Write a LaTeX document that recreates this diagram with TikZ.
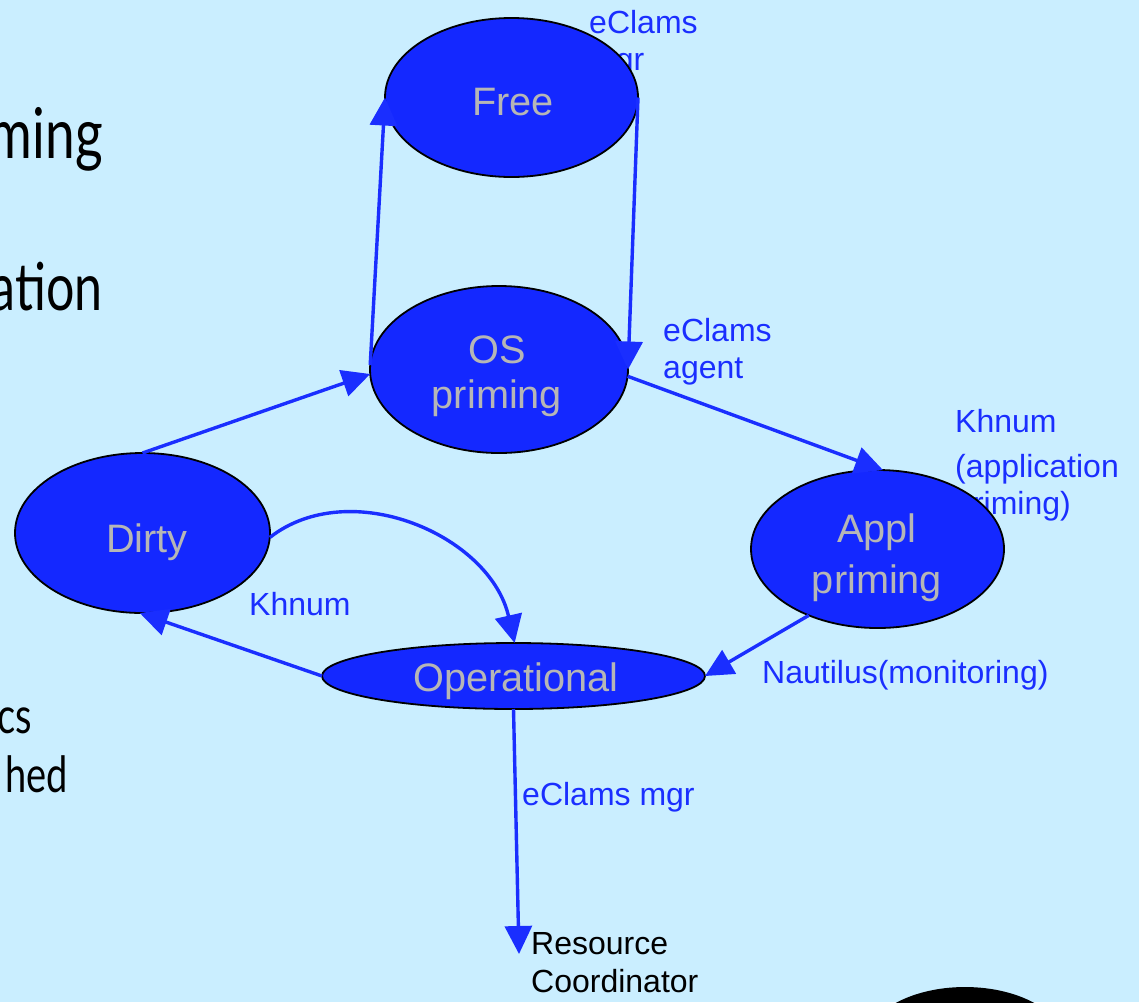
\documentclass[tikz,border=0pt]{standalone}
\usepackage{fontspec}
\setmainfont{Liberation Sans}
\newfontfamily\slidefont{Lato}
\usetikzlibrary{arrows.meta,shapes.geometric}

\definecolor{slidebg}{RGB}{202,238,255}
\definecolor{stateblue}{RGB}{20,40,255}
\definecolor{linkblue}{RGB}{26,46,255}
\definecolor{stategray}{RGB}{182,182,182}

\tikzset{
  state/.style={ellipse, draw=black, line width=1.8pt, fill=stateblue,
    inner sep=0pt, outer sep=0pt},
  statetext/.style={text=stategray, inner sep=0pt, align=center,
    font=\fontsize{39.7}{45}\selectfont},
  link/.style={draw=linkblue, line width=3.4pt,
    -{Triangle[length=28pt,width=27pt]}},
  tag/.style={text=linkblue, inner sep=0pt, align=left,
    font=\fontsize{32}{37}\selectfont},
  plain/.style={text=black, inner sep=0pt, align=left,
    font=\fontsize{32}{38}\selectfont},
  slidetext/.style={text=black, inner sep=0pt, anchor=base east}
}
\newcommand{\narrowtext}[1]{\scalebox{0.76}[1]{#1}}

\begin{document}
\begin{tikzpicture}[x=1pt,y=-1pt]
\useasboundingbox (0,0) rectangle (1139,1002);
\fill[slidebg] (0,0) rectangle (1139,1002);

\begin{scope}
\clip (0,0) rectangle (1139,1002);
% fragments of the slide's bullet text
\node[slidetext, font=\slidefont\fontsize{70}{76}\selectfont] (t1) at (103,158) {\narrowtext{ming}};
\node[slidetext, font=\slidefont\fontsize{66}{72}\selectfont] (t2) at (103,310) {\narrowtext{ation}};
\node[slidetext, font=\slidefont\fontsize{50}{56}\selectfont] (t3) at (32,733) {\narrowtext{cs}};
\node[slidetext, font=\slidefont\fontsize{50}{56}\selectfont] (t4) at (68,792) {\narrowtext{hed}};
% black disc at the lower edge
\fill[black] (965,1047) ellipse [x radius=102, y radius=60];
\end{scope}

% transition labels (set below the states)
\node[tag, anchor=north west] (l1) at (589,10) {eClams\\mgr};
\node[tag, anchor=north west] (l2) at (663,318) {eClams\\agent};
\node[tag, anchor=north west] (l3) at (955,409) {Khnum\\[8pt](application\\priming)};
\node[tag, anchor=base west] (l4) at (249,615) {Khnum};
\node[tag, anchor=base west] (l5) at (762,683) {Nautilus(monitoring)};
\node[tag, anchor=base west] (l6) at (522,805) {eClams mgr};
\node[plain, anchor=north west] (rc) at (531,932) {Resource\\Coordinator};
\coordinate (rcin) at (519,954);

% states
\node[state, minimum width=253, minimum height=159] (free) at (511.5,97.5) {};
\node[state, minimum width=258, minimum height=167] (os) at (499,369.5) {};
\node[state, minimum width=255, minimum height=160] (dirty) at (142.5,533) {};
\node[state, minimum width=253, minimum height=158] (appl) at (877.5,549) {};
\node[state, minimum width=383, minimum height=66] (oper) at (513.5,676) {};

% state names
\node[statetext, anchor=base] (freet) at (513,115) {Free};
\node[statetext, anchor=north] (ost) at (497,336) {OS\\priming};
\node[statetext, anchor=base] (dirtyt) at (147,552) {Dirty};
\node[statetext, anchor=north, font=\fontsize{39.7}{51}\selectfont] (applt) at (877,514) {Appl\\priming};
\node[statetext, anchor=base] (opert) at (516,691) {Operational};

% transitions
\draw[link] (os.178) -- (free.180);
\draw[link] (free.0) -- (os.0);
\draw[link] (os.-3) -- (appl.86);
\draw[link] (dirty.90) -- (os.182);
\draw[link] (dirty.-2) .. controls (350,475) and (490,535) .. (oper.88);
\draw[link] (oper.180) -- (dirty.-92);
\draw[link] (appl.224) -- (oper.0);
\draw[link] (oper.-90) -- (rcin);
\end{tikzpicture}
\end{document}
